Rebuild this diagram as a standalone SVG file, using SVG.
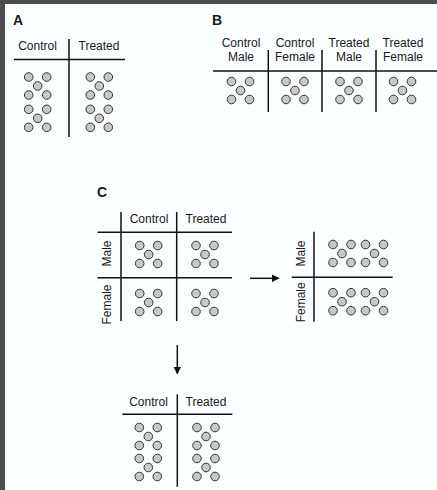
<svg xmlns="http://www.w3.org/2000/svg" xmlns:xlink="http://www.w3.org/1999/xlink" width="437" height="490" viewBox="0 0 437 490">
<style>
text{font-family:"Liberation Sans",Arial,sans-serif;fill:#1a1a1a;}
.lab{font-size:12px;text-anchor:middle;}
.pl{font-size:14px;font-weight:bold;}
.ax{stroke:#111;stroke-width:1.5;fill:none;}
.dot{fill:#c8c8c8;stroke:#333;stroke-width:1;}
.arr{stroke:#111;stroke-width:1.5;fill:none;}
</style>
<defs>
<g id="g5">
<circle class="dot" cx="-9" cy="-9" r="4.3"/>
<circle class="dot" cx="9" cy="-9" r="4.3"/>
<circle class="dot" cx="0" cy="0" r="4.3"/>
<circle class="dot" cx="-9" cy="9" r="4.3"/>
<circle class="dot" cx="9" cy="9" r="4.3"/>
</g>
<marker id="ah" markerWidth="8" markerHeight="8" refX="7" refY="4" orient="auto" markerUnits="userSpaceOnUse">
<path d="M0,0 L8,4 L0,8 Z" fill="#111"/>
</marker>
</defs>
<rect x="0" y="0" width="437" height="490" fill="#4d4d4d"/>
<rect x="5" y="4" width="432" height="486" fill="#fbfeff"/>

<g id="panelA">
<text class="pl" x="13" y="25">A</text>
<text class="lab" x="37.5" y="50">Control</text>
<text class="lab" x="99" y="50">Treated</text>
<line class="ax" x1="14" y1="59.5" x2="125" y2="59.5"/>
<line class="ax" x1="69" y1="39" x2="69" y2="137"/>
<use xlink:href="#g5" x="37.7" y="86"/>
<use xlink:href="#g5" x="37.7" y="118.3"/>
<use xlink:href="#g5" x="99.3" y="86"/>
<use xlink:href="#g5" x="99.3" y="118.3"/>
</g>

<g id="panelB">
<text class="pl" x="212" y="25">B</text>
<text class="lab" x="241" y="47">Control</text>
<text class="lab" x="241" y="61">Male</text>
<text class="lab" x="295" y="47">Control</text>
<text class="lab" x="295" y="61">Female</text>
<text class="lab" x="349" y="47">Treated</text>
<text class="lab" x="349" y="61">Male</text>
<text class="lab" x="403" y="47">Treated</text>
<text class="lab" x="403" y="61">Female</text>
<line class="ax" x1="213" y1="71" x2="437" y2="71"/>
<line class="ax" x1="268.3" y1="50" x2="268.3" y2="112"/>
<line class="ax" x1="322" y1="50" x2="322" y2="112"/>
<line class="ax" x1="376" y1="50" x2="376" y2="112"/>
<use xlink:href="#g5" x="240.5" y="90.5"/>
<use xlink:href="#g5" x="295" y="90.5"/>
<use xlink:href="#g5" x="349" y="90.5"/>
<use xlink:href="#g5" x="402.5" y="90.5"/>
</g>

<g id="panelC">
<text class="pl" x="97" y="197">C</text>
<text class="lab" x="149" y="223">Control</text>
<text class="lab" x="206" y="223">Treated</text>
<line class="ax" x1="121" y1="212" x2="121" y2="321"/>
<line class="ax" x1="176.7" y1="212" x2="176.7" y2="321"/>
<line class="ax" x1="97.5" y1="232.3" x2="232" y2="232.3"/>
<line class="ax" x1="97.5" y1="277.7" x2="232" y2="277.7"/>
<text class="lab" transform="translate(111,253.5) rotate(-90)">Male</text>
<text class="lab" transform="translate(111,304.5) rotate(-90)">Female</text>
<use xlink:href="#g5" x="148.7" y="254.5"/>
<use xlink:href="#g5" x="205" y="254.5"/>
<use xlink:href="#g5" x="148.7" y="302.5"/>
<use xlink:href="#g5" x="205" y="302.5"/>
</g>

<g id="panelC2">
<line class="ax" x1="314" y1="231.7" x2="314" y2="321.7"/>
<line class="ax" x1="291.7" y1="277.3" x2="392.7" y2="277.3"/>
<text class="lab" transform="translate(305,253.5) rotate(-90)">Male</text>
<text class="lab" transform="translate(305,302.3) rotate(-90)">Female</text>
<use xlink:href="#g5" x="342" y="253.5"/>
<use xlink:href="#g5" x="374.5" y="253.5"/>
<use xlink:href="#g5" x="342" y="301.7"/>
<use xlink:href="#g5" x="374.5" y="301.7"/>
</g>

<g id="panelC3">
<text class="lab" x="148.5" y="406">Control</text>
<text class="lab" x="206" y="406">Treated</text>
<line class="ax" x1="122.3" y1="414.3" x2="232.3" y2="414.3"/>
<line class="ax" x1="177.3" y1="394.3" x2="177.3" y2="486.7"/>
<use xlink:href="#g5" x="148.3" y="436.5"/>
<use xlink:href="#g5" x="148.3" y="467.5"/>
<use xlink:href="#g5" x="206" y="436.5"/>
<use xlink:href="#g5" x="206" y="467.5"/>
</g>

<g id="connectors">
<line class="arr" x1="250" y1="278.3" x2="278.5" y2="278.3" marker-end="url(#ah)"/>
<line class="arr" x1="177.3" y1="345" x2="177.3" y2="373.5" marker-end="url(#ah)"/>
</g>
</svg>
